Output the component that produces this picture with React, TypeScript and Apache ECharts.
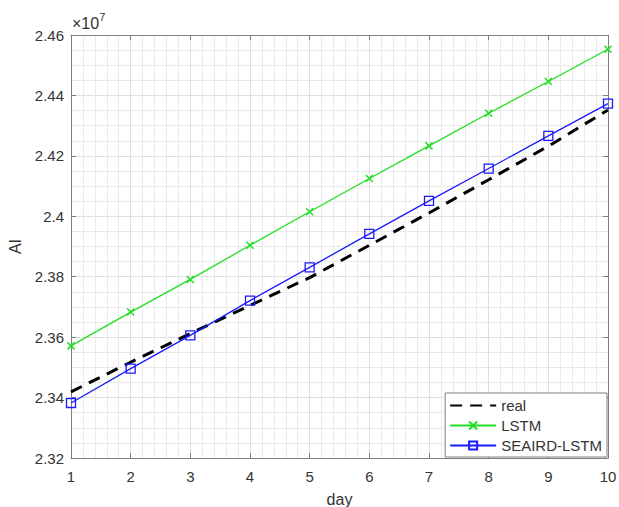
import React, { useEffect, useRef } from "react";
import * as echarts from "echarts";

// Forecast window (days) and the three AI trajectories
const days = [1, 2, 3, 4, 5, 6, 7, 8, 9, 10];
const realValues = [23419000, 23517000, 23612000, 23705000, 23797000, 23904000, 24011000, 24121000, 24232000, 24352000];
const lstmValues = [23571000, 23683000, 23791000, 23904000, 24015000, 24125000, 24233000, 24341000, 24446000, 24553000];
const seairdValues = [23382000, 23496000, 23606000, 23721000, 23831000, 23942000, 24051000, 24158000, 24266000, 24373000];

const seriesNames = ["real", "LSTM", "SEAIRD-LSTM"];

const FONT = "Liberation Sans, Arial, Helvetica, sans-serif";
const AXIS_GRAY = "#7f7f7f";
const TEXT = "#333333";

const pairs = (vals: number[]) => days.map((d, i) => [d, vals[i]]);

export default function App() {
  const ref = useRef<HTMLDivElement>(null);

  useEffect(() => {
    if (!ref.current) return;
    const chart = echarts.init(ref.current, undefined, { renderer: "svg" });

    const grid = { left: 71, right: 11, top: 35, bottom: 49, outerBoundsMode: "none", containLabel: false };

    const baseAxisLine = { show: true, lineStyle: { color: AXIS_GRAY, width: 1 } };

    chart.setOption({
      animation: false,
      backgroundColor: "#ffffff",
      textStyle: { fontFamily: FONT },
      grid,
      legend: {
        orient: "vertical",
        right: 12,
        bottom: 50,
        backgroundColor: "#ffffff",
        borderColor: "#7f7f7f",
        borderWidth: 1,
        borderRadius: 0,
        padding: [5, 5, 4, 4],
        itemWidth: 46,
        itemHeight: 10,
        itemGap: 5,
        textStyle: { fontSize: 15, color: TEXT, fontFamily: FONT },
        data: [
          { name: seriesNames[0], itemStyle: { opacity: 0 } },
          seriesNames[1],
          seriesNames[2],
        ],
      },
      graphic: [
        {
          type: "text",
          left: 72,
          top: 11,
          style: {
            text: "{a|×10}{b|7}",
            fontFamily: FONT,
            rich: {
              a: { fontSize: 16, fill: TEXT, fontFamily: FONT, verticalAlign: "bottom" },
              b: { fontSize: 11, fill: TEXT, fontFamily: FONT, verticalAlign: "top", padding: [0, 0, 9, 0] },
            },
          },
        },
      ],
      xAxis: [
        {
          type: "value",
          min: 1,
          max: 10,
          interval: 1,
          name: "day",
          nameLocation: "middle",
          nameGap: 33,
          nameTextStyle: { fontSize: 16, color: TEXT, fontFamily: FONT },
          axisLine: baseAxisLine,
          axisTick: { show: true, inside: true, length: 5, lineStyle: { color: AXIS_GRAY } },
          axisLabel: { fontSize: 15, color: TEXT, margin: 11, fontFamily: FONT },
          splitLine: { show: true, lineStyle: { color: "#dedede", width: 1 } },
          minorTick: { show: false, splitNumber: 5 },
          minorSplitLine: { show: true, lineStyle: { color: "#eaeaea", width: 1 } },
        },
        {
          type: "value",
          position: "top",
          min: 1,
          max: 10,
          interval: 1,
          axisLine: baseAxisLine,
          axisTick: { show: true, inside: true, length: 5, lineStyle: { color: AXIS_GRAY } },
          axisLabel: { show: false },
          splitLine: { show: false },
        },
      ],
      yAxis: [
        {
          type: "value",
          min: 23200000,
          max: 24600000,
          interval: 200000,
          name: "AI",
          nameLocation: "middle",
          nameGap: 47,
          nameTextStyle: { fontSize: 16, color: TEXT, fontFamily: FONT },
          axisLine: baseAxisLine,
          axisTick: { show: true, inside: true, length: 5, lineStyle: { color: AXIS_GRAY } },
          axisLabel: {
            fontSize: 15,
            color: TEXT,
            margin: 7,
            fontFamily: FONT,
            formatter: (v: number) => String(Math.round(v / 1e4) / 1e3),
          },
          splitLine: { show: true, lineStyle: { color: "#dedede", width: 1 } },
          minorTick: { show: false, splitNumber: 4 },
          minorSplitLine: { show: true, lineStyle: { color: "#eaeaea", width: 1 } },
        },
        {
          type: "value",
          position: "right",
          min: 23200000,
          max: 24600000,
          interval: 200000,
          axisLine: baseAxisLine,
          axisTick: { show: true, inside: true, length: 5, lineStyle: { color: AXIS_GRAY } },
          axisLabel: { show: false },
          splitLine: { show: false },
        },
      ],
      series: [
        {
          name: seriesNames[0],
          type: "line",
          data: pairs(realValues),
          showSymbol: false,
          symbol: "none",
          color: "#000000",
          lineStyle: { color: "#000000", width: 3, type: [12, 8] },
          z: 3,
        },
        {
          name: seriesNames[1],
          type: "line",
          data: pairs(lstmValues),
          symbol: "path://M0,0L10,10M10,0L0,10",
          symbolSize: 7,
          color: "#22dd22",
          itemStyle: { color: "rgba(0,0,0,0)", borderColor: "#22dd22", borderWidth: 1.5 },
          lineStyle: { color: "#22dd22", width: 1.3 },
          z: 4,
        },
        {
          name: seriesNames[2],
          type: "line",
          data: pairs(seairdValues),
          symbol: "rect",
          symbolSize: 9,
          color: "#1a1aff",
          itemStyle: { color: "rgba(0,0,0,0)", borderColor: "#1a1aff", borderWidth: 1.3 },
          lineStyle: { color: "#1a1aff", width: 1.3 },
          z: 5,
        },
      ],
    });

    return () => chart.dispose();
  }, []);

  return <div ref={ref} style={{ width: 619, height: 507, position: "absolute", left: 0, top: 0 }} />;
}
